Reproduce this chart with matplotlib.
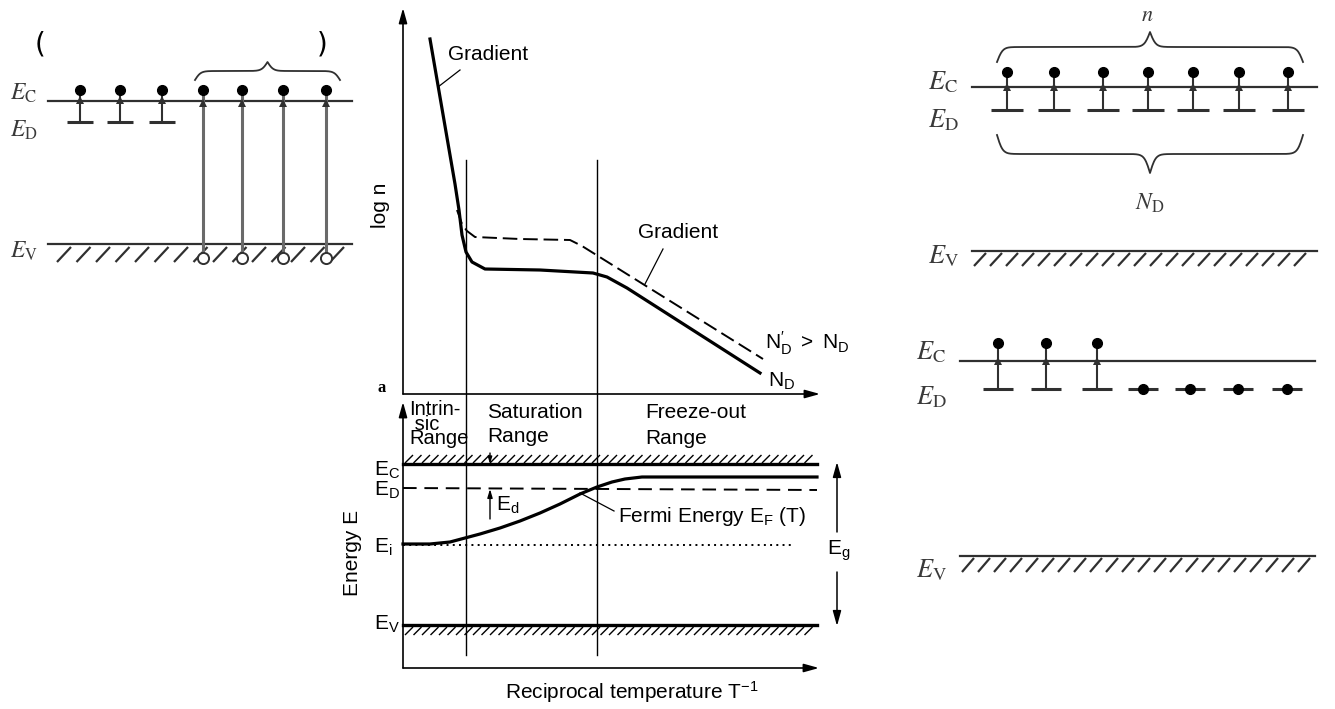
import numpy as np
import matplotlib.pyplot as plt

plt.rcParams['mathtext.fontset'] = 'custom'
plt.rcParams['mathtext.rm'] = 'Liberation Sans'
plt.rcParams['mathtext.it'] = 'Liberation Sans:italic'
plt.rcParams['mathtext.sf'] = 'Liberation Sans'

SANS = 'Liberation Sans'
SERIF = 'Liberation Serif'
INK = 'black'
GREY = '#303030'

# ---- middle panel (a): log n against 1/T, positions (px)
logn_x = [430, 445, 455, 459, 462, 466, 472, 485, 540, 593, 607, 627, 760]
logn_y = [39, 126, 184, 210, 235, 252, 262, 269, 270, 273, 277, 288, 373]
logn2_x = [457, 462, 467, 475, 520, 570, 582, 763]
logn2_y = [210, 224, 231, 237, 239, 240, 246, 359]

# ---- lower middle panel: Fermi level against 1/T
fermi_x = [403, 430, 450, 465, 480, 500, 520, 540, 560, 580, 597, 612, 625, 642, 680, 817]
fermi_y = [544, 544, 542, 538, 534, 528, 521, 513, 504, 494, 487, 482, 479, 477, 477, 477]
region_x = [466, 597]          # boundaries intrinsic | saturation | freeze-out
level_y = {'EC': 464, 'ED0': 488, 'ED1': 490, 'Ei': 545, 'EV': 625}

# ---- side sketches: donor / electron positions
left_x = [80, 120, 162, 203, 242, 283, 326]   # first 3 bound, last 4 intrinsic pairs
right_top_x = [1007, 1054, 1103, 1148, 1193, 1239, 1288]
right_bot_x = [998, 1046, 1097, 1143, 1190, 1238, 1287]
n_ionised_bot = 3


def arrow(ax, x0, y0, x1, y1, hw=0.3, hl=0.8, lw=1.2):
    ax.annotate('', xy=(x1, y1), xytext=(x0, y0),
                arrowprops=dict(arrowstyle='-|>,head_width=%s,head_length=%s' % (hw, hl),
                                lw=lw, color=INK, shrinkA=0, shrinkB=0))


def hatch(ax, x0, x1, ytop, ybot, step, dx, lw=1.0, color=INK):
    for xs in np.arange(x0 + 2, x1 - dx, step):
        ax.plot([xs, xs + dx], [ybot, ytop], color=color, lw=lw, solid_capstyle='butt')


def brace(ax, x0, x1, y, h, beta=0.35, color=GREY, lw=1.3):
    xs = np.linspace(x0, x1, 401)
    half = xs[:201]
    v = 1 / (1 + np.exp(-beta * (half - half[0]))) + 1 / (1 + np.exp(-beta * (half - half[-1])))
    v = np.concatenate([v, v[-2::-1]]) - 0.5
    ax.plot(xs, y - h * v, color=color, lw=lw)


def donor(ax, x, y_dash, y_dot, half=13, lw=1.5, arrow_y=None):
    ax.plot([x - half, x + half], [y_dash, y_dash], color=GREY, lw=2.2, solid_capstyle='butt')
    ax.plot([x, x], [y_dash, y_dot], color=GREY, lw=lw)
    if arrow_y is not None:
        ax.plot(x, arrow_y, marker='^', ms=6, color=GREY, mew=0)
    ax.plot(x, y_dot, 'o', ms=7, color=INK)


def serif_label(ax, x, y, s, size):
    ax.text(x, y, s, fontsize=size, color='#3a3a3a', va='center', ha='left',
            math_fontfamily='stix', family=SERIF)


fig = plt.figure(figsize=(13.35, 7.09), dpi=100)
ax = fig.add_axes([0, 0, 1, 1])
ax.set_xlim(0, 1335)
ax.set_ylim(709, 0)
ax.axis('off')

# ================= left sketch =================
ax.text(40, 45, '(', fontsize=20, family='DejaVu Sans', ha='center', va='center')
ax.text(322, 45, ')', fontsize=20, family='DejaVu Sans', ha='center', va='center')
brace(ax, 195, 340, 80, 18)
ax.plot([48, 352], [101, 101], color=GREY, lw=1.6)
ax.plot([48, 352], [244, 244], color=GREY, lw=1.6)
hatch(ax, 55, 352, 247, 262, 19.5, 14, lw=1.6, color=GREY)
for x in left_x[:3]:
    donor(ax, x, 122, 90, half=13, arrow_y=100)
for x in left_x[3:]:
    ax.plot([x, x], [90, 257], color='#6a6a6a', lw=2.2)
    ax.plot(x, 103, marker='^', ms=6, color=GREY, mew=0)
    ax.plot(x, 90, 'o', ms=7, color=INK)
    ax.plot(x, 258, 'o', ms=8, mfc='white', mec=GREY, mew=1.4)
serif_label(ax, 10, 93, r'$E_\mathrm{C}$', 17)
serif_label(ax, 10, 130, r'$E_\mathrm{D}$', 17)
serif_label(ax, 10, 251, r'$E_\mathrm{V}$', 17)

# ================= middle top: log n =================
arrow(ax, 403, 394, 403, 8, hw=0.25, hl=0.9)
arrow(ax, 403, 394, 820, 394, hw=0.25, hl=0.9)
ax.plot(logn_x, logn_y, color=INK, lw=2.3, solid_joinstyle='round')
ax.plot(logn2_x, logn2_y, color=INK, lw=1.4, ls=(0, (7.5, 3)))
for xv in region_x:
    ax.plot([xv, xv], [160, 655], color=INK, lw=1.0)
ax.text(448, 54, 'Gradient', fontsize=15, family=SANS, va='center')
ax.plot([460, 438], [70, 87], color=INK, lw=0.9)
ax.text(638, 232, 'Gradient', fontsize=15, family=SANS, va='center')
ax.plot([663, 645], [249, 284], color=INK, lw=0.9)
ax.text(765, 343, r"$\mathrm{N_D^{\prime}\ >\ N_D}$", fontsize=15, family=SANS, va='center')
ax.text(768, 381, r'$\mathrm{N_D}$', fontsize=15, family=SANS, va='center')
ax.text(380, 205, 'log n', fontsize=15, family=SANS, rotation=90, ha='center', va='center')
ax.text(382, 388, 'a', fontsize=12, family=SERIF, weight='bold', ha='center', va='center')

# ================= middle bottom: energy levels =================
arrow(ax, 403, 668, 403, 402, hw=0.25, hl=0.9)
arrow(ax, 403, 668, 819, 668, hw=0.25, hl=0.9)
ax.plot([403, 817], [level_y['EC']] * 2, color=INK, lw=2.4)
hatch(ax, 403, 817, 455, 463, 8.5, 8, lw=1.0)
ax.plot([403, 817], [level_y['EV']] * 2, color=INK, lw=2.4)
hatch(ax, 403, 817, 627, 635, 8.5, 8, lw=1.0)
ax.plot([403, 817], [level_y['ED0'], level_y['ED1']], color=INK, lw=1.4, ls=(0, (7, 4)))
ax.plot([403, 795], [level_y['Ei']] * 2, color=INK, lw=1.4, ls=(0, (1, 2.2)))
ax.plot(fermi_x, fermi_y, color=INK, lw=2.3)

ax.text(409, 400, 'Intrin-\n sic\nRange', fontsize=14.5, family=SANS, va='top', ha='left',
        multialignment='left', linespacing=0.7)
ax.text(487, 412, 'Saturation', fontsize=15, family=SANS, va='center')
ax.text(487, 437, 'Range', fontsize=15, family=SANS, va='center')
ax.text(645, 412, 'Freeze-out', fontsize=15, family=SANS, va='center')
ax.text(645, 439, 'Range', fontsize=15, family=SANS, va='center')

ax.text(374, 470, r'$\mathrm{E_C}$', fontsize=15, family=SANS, va='center')
ax.text(374, 490, r'$\mathrm{E_D}$', fontsize=15, family=SANS, va='center')
ax.text(374, 547, r'$\mathrm{E_i}$', fontsize=15, family=SANS, va='center')
ax.text(374, 624, r'$\mathrm{E_V}$', fontsize=15, family=SANS, va='center')
ax.text(353, 553, 'Energy E', fontsize=15, family=SANS, rotation=90, ha='center', va='center')

arrow(ax, 490, 519, 490, 489, hw=0.15, hl=0.5, lw=1.0)
ax.text(496, 505, r'$\mathrm{E_d}$', fontsize=15, family=SANS, va='center')
arrow(ax, 490, 453, 490, 464, hw=0.12, hl=0.4, lw=1.0)
ax.plot([580, 614], [493, 511], color=INK, lw=0.9)
ax.text(618, 517, r'Fermi Energy $\mathrm{E_F}$ (T)', fontsize=15, family=SANS, va='center')

arrow(ax, 837, 532, 837, 462, hw=0.25, hl=0.9, lw=1.1)
arrow(ax, 837, 572, 837, 626, hw=0.25, hl=0.9, lw=1.1)
ax.text(839, 551, r'$\mathrm{E_g}$', fontsize=15, family=SANS, ha='center', va='center')
ax.text(632, 692, r'Reciprocal temperature $\mathrm{T^{-1}}$', fontsize=15, family=SANS,
        ha='center', va='center')

# ================= right sketches =================
ax.text(1147, 15, r'$n$', fontsize=16, color='#3a3a3a', math_fontfamily='stix',
        ha='center', va='center')
brace(ax, 997, 1303, 62, 30)
brace(ax, 997, 1303, 135, -38)
ax.text(1150, 203, r'$N_\mathrm{D}$', fontsize=17, color='#3a3a3a', math_fontfamily='stix',
        ha='center', va='center')
ax.plot([972, 1317], [87, 87], color=GREY, lw=1.6)
for x in right_top_x:
    donor(ax, x, 110, 72, half=16, arrow_y=87)
ax.plot([972, 1317], [251, 251], color=GREY, lw=1.6)
hatch(ax, 972, 1317, 253, 266, 16, 12, lw=1.6, color=GREY)
serif_label(ax, 928, 82, r'$E_\mathrm{C}$', 19)
serif_label(ax, 928, 120, r'$E_\mathrm{D}$', 19)
serif_label(ax, 928, 256, r'$E_\mathrm{V}$', 19)

ax.plot([960, 1315], [361, 361], color=GREY, lw=1.6)
for i, x in enumerate(right_bot_x):
    if i < n_ionised_bot:
        donor(ax, x, 389, 343, half=15, arrow_y=361)
    else:
        ax.plot([x - 15, x + 15], [389, 389], color=GREY, lw=2.2, solid_capstyle='butt')
        ax.plot(x, 389, 'o', ms=7, color=INK)
ax.plot([960, 1315], [556, 556], color=GREY, lw=1.6)
hatch(ax, 960, 1315, 558, 572, 16, 12, lw=1.6, color=GREY)
serif_label(ax, 916, 352, r'$E_\mathrm{C}$', 19)
serif_label(ax, 916, 397, r'$E_\mathrm{D}$', 19)
serif_label(ax, 916, 570, r'$E_\mathrm{V}$', 19)

fig.savefig('out.png', dpi=100)
